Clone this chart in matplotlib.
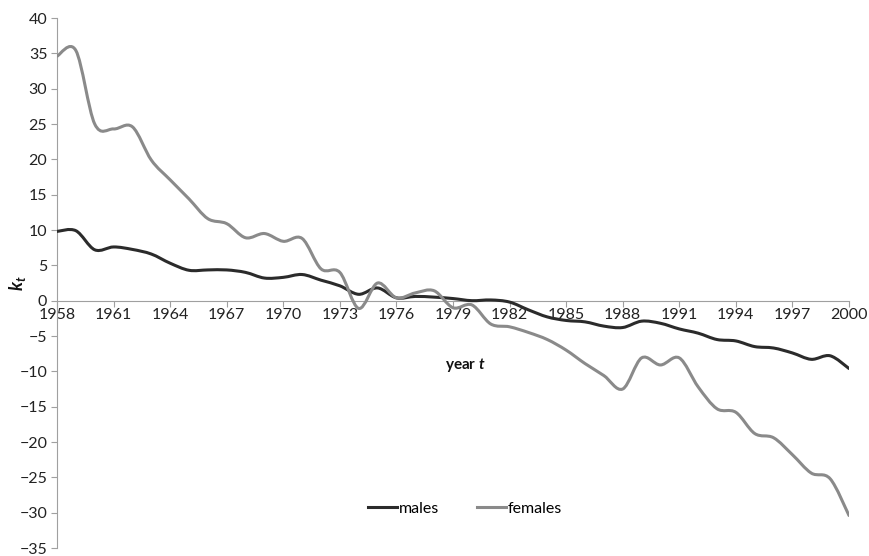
import numpy as np
import matplotlib
matplotlib.use("Agg")
import matplotlib.pyplot as plt
from matplotlib.path import Path
from matplotlib.patches import PathPatch
from matplotlib.lines import Line2D

years = list(range(1958, 2001))
males = [9.8, 9.9, 7.2, 7.6, 7.25, 6.6, 5.3, 4.3, 4.35, 4.35, 4.0, 3.2, 3.3, 3.7, 2.9, 2.1,
         0.9, 1.8, 0.4, 0.6, 0.5, 0.3, 0.0, 0.1, -0.2, -1.3, -2.3, -2.8, -3.0, -3.6, -3.8,
         -2.9, -3.2, -4.0, -4.6, -5.5, -5.7, -6.5, -6.7, -7.4, -8.3, -7.8, -9.6]
females = [34.6, 35.4, 25.0, 24.3, 24.6, 19.9, 17.1, 14.4, 11.6, 10.9, 8.9, 9.5, 8.4, 8.8,
           4.5, 4.0, -1.1, 2.5, 0.4, 1.1, 1.4, -1.0, -0.6, -3.3, -3.7, -4.5, -5.5, -7.0,
           -8.9, -10.6, -12.5, -8.1, -9.1, -8.1, -12.2, -15.3, -15.8, -18.8, -19.4, -21.8,
           -24.4, -25.2, -30.4]
xticks = list(range(1958, 2001, 3))
yticks = list(range(-35, 41, 5))

plt.rcParams['font.family'] = ['Lato', 'DejaVu Sans']
plt.rcParams['mathtext.fontset'] = 'custom'
plt.rcParams['mathtext.it'] = 'Lato:italic:bold'
plt.rcParams['mathtext.rm'] = 'Lato:bold'

fig = plt.figure(figsize=(8.69, 5.56), dpi=100)
ax = fig.add_axes([57/869, 1-548/556, (849-57)/869, (548-18)/556])


def smooth_path(x, y):
    x = np.asarray(x, float)
    y = np.asarray(y, float)
    P = np.column_stack([x, y])
    n = len(P)
    verts = [P[0]]
    codes = [Path.MOVETO]
    for i in range(n - 1):
        p0 = P[i - 1] if i > 0 else P[i]
        p1 = P[i]
        p2 = P[i + 1]
        p3 = P[i + 2] if i + 2 < n else P[i + 1]
        c1 = p1 + (p2 - p0) / 6.0
        c2 = p2 - (p3 - p1) / 6.0
        verts += [c1, c2, p2]
        codes += [Path.CURVE4] * 3
    return Path(verts, codes)


male_color = '#2b2b2b'
female_color = '#8a8a8a'
lw = 2.2
for vals, col in [(males, male_color), (females, female_color)]:
    ax.add_patch(PathPatch(smooth_path(years, vals), facecolor='none', edgecolor=col,
                           lw=lw, capstyle='round', joinstyle='round', zorder=3))

ax.set_xlim(1958, 2000)
ax.set_ylim(-35, 40)
ax.set_xticks(xticks)
ax.set_yticks(yticks)

for s in ['top', 'right']:
    ax.spines[s].set_visible(False)
ax.spines['bottom'].set_position(('data', 0))
ax.spines['left'].set_color('#a0a0a0')
ax.spines['bottom'].set_color('#a0a0a0')
ax.tick_params(axis='both', colors='#a0a0a0', labelcolor='#222222', labelsize=11.5,
               length=4, width=0.8, direction='out')
ax.tick_params(axis='x', pad=1)
ax.tick_params(axis='y', pad=3)

ax.text(-0.05, 0.50, r'$k_t$', transform=ax.transAxes, rotation=90,
        fontsize=13, ha='center', va='center', color='#111111')
ax.text(0.515, 0.346, r'year $t$', transform=ax.transAxes, fontsize=11,
        fontweight='bold', ha='center', va='center', color='#111111')

handles = [Line2D([0], [0], color=male_color, lw=lw),
           Line2D([0], [0], color=female_color, lw=lw)]
fig.legend(handles, ['males', 'females'], loc='center', bbox_to_anchor=(465/869, 1-509/556),
           ncol=2, frameon=False, fontsize=11.5, handlelength=1.8, handletextpad=0.1,
           columnspacing=2.4)

fig.savefig('out.png', dpi=100)
